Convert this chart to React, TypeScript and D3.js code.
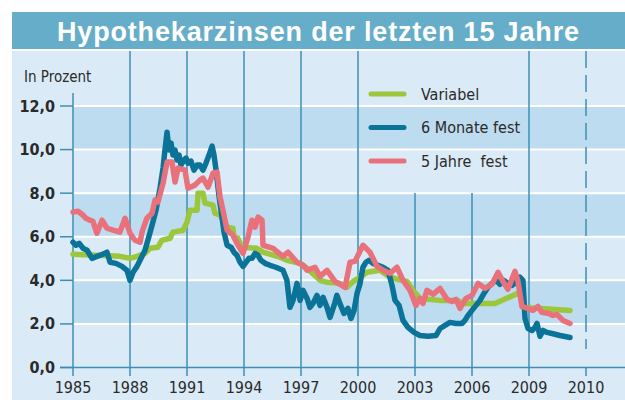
import React from "react";
import * as d3 from "d3";

const title = "Hypothekarzinsen der letzten 15 Jahre";
const yAxisTitle = "In Prozent";
const xTickLabels = ["1985", "1988", "1991", "1994", "1997", "2000", "2003", "2006", "2009", "2010"];
const yTickValues = [0, 2, 4, 6, 8, 10, 12];
const seriesNames = ["Variabel", "6 Monate fest", "5 Jahre  fest"];

const variabelYears = [1985.0, 1987.47, 1988.0, 1988.37, 1988.79, 1989.05, 1989.47, 1989.68, 1990.11, 1990.26, 1990.79, 1991.0, 1991.16, 1991.53, 1991.58, 1991.84, 1991.95, 1992.37, 1992.47, 1992.74, 1993.11, 1993.42, 1993.47, 1993.68, 1993.89, 1994.68, 1995.0, 1995.89, 1996.26, 1996.95, 1997.32, 1998.0, 1998.37, 1999.05, 1999.42, 1999.74, 2000.11, 2000.47, 2001.16, 2001.53, 2002.05, 2002.58, 2002.89, 2003.26, 2004.32, 2005.26, 2005.47, 2007.21, 2008.53, 2008.68, 2011.16];
const variabelValues = [5.2, 5.1, 5.01, 5.1, 5.24, 5.47, 5.52, 5.84, 5.93, 6.21, 6.3, 6.67, 7.22, 7.22, 8.0, 8.0, 7.54, 7.45, 7.08, 6.99, 6.44, 6.39, 5.98, 5.93, 5.52, 5.47, 5.29, 5.06, 4.92, 4.78, 4.55, 4.0, 3.91, 3.86, 3.68, 3.95, 4.14, 4.37, 4.46, 4.23, 4.05, 3.95, 3.54, 3.17, 3.08, 3.08, 2.94, 2.94, 3.45, 2.76, 2.62];

const monateYears = [1985.0, 1985.16, 1985.32, 1985.53, 1985.74, 1986.0, 1986.26, 1986.58, 1986.79, 1986.95, 1987.26, 1987.58, 1987.84, 1988.0, 1988.16, 1988.37, 1988.58, 1988.79, 1989.0, 1989.16, 1989.37, 1989.58, 1989.74, 1989.84, 1989.95, 1990.05, 1990.16, 1990.26, 1990.37, 1990.47, 1990.58, 1990.68, 1990.84, 1990.95, 1991.05, 1991.21, 1991.37, 1991.53, 1991.68, 1991.84, 1992.0, 1992.16, 1992.32, 1992.42, 1992.53, 1992.68, 1992.79, 1992.95, 1993.11, 1993.32, 1993.47, 1993.63, 1993.79, 1993.95, 1994.11, 1994.26, 1994.42, 1994.58, 1994.74, 1994.89, 1995.11, 1995.37, 1995.68, 1996.05, 1996.26, 1996.42, 1996.58, 1996.79, 1996.95, 1997.11, 1997.32, 1997.47, 1997.63, 1997.84, 1998.0, 1998.16, 1998.37, 1998.53, 1998.74, 1998.89, 1999.05, 1999.26, 1999.47, 1999.63, 1999.79, 1999.95, 2000.11, 2000.26, 2000.42, 2000.58, 2000.79, 2001.05, 2001.32, 2001.58, 2001.79, 2001.95, 2002.16, 2002.37, 2002.63, 2002.95, 2003.26, 2003.68, 2004.11, 2004.32, 2004.58, 2004.84, 2005.16, 2005.47, 2005.63, 2005.79, 2006.0, 2006.21, 2006.42, 2006.63, 2006.84, 2007.05, 2007.26, 2007.47, 2007.68, 2007.89, 2008.11, 2008.32, 2008.53, 2008.68, 2008.79, 2008.95, 2009.16, 2009.32, 2009.42, 2009.58, 2009.74, 2009.95, 2010.21, 2010.63, 2011.16];
const monateValues = [5.75, 5.61, 5.7, 5.47, 5.38, 5.01, 5.1, 5.2, 5.29, 4.83, 4.78, 4.64, 4.46, 4.0, 4.37, 4.64, 5.01, 5.38, 6.02, 6.53, 7.22, 8.23, 9.15, 9.98, 10.8, 9.98, 10.3, 9.75, 9.98, 9.52, 9.75, 9.29, 9.52, 9.61, 9.38, 9.47, 9.06, 9.29, 9.29, 9.06, 9.38, 9.75, 10.16, 9.75, 9.06, 7.91, 7.22, 6.21, 5.61, 5.52, 5.29, 5.15, 4.83, 4.64, 4.83, 5.01, 5.01, 5.24, 5.15, 4.92, 4.78, 4.69, 4.6, 4.46, 4.0, 2.76, 3.08, 3.86, 3.08, 3.54, 3.17, 2.76, 2.94, 3.31, 2.85, 3.22, 2.76, 2.3, 2.85, 3.31, 2.94, 2.48, 2.71, 2.25, 2.62, 3.4, 3.86, 4.6, 4.83, 4.92, 4.78, 4.69, 4.6, 4.46, 3.77, 3.08, 2.85, 2.16, 1.84, 1.61, 1.47, 1.43, 1.47, 1.79, 1.93, 2.07, 2.02, 2.02, 2.16, 2.39, 2.62, 2.85, 3.08, 3.4, 3.68, 3.86, 4.0, 3.82, 4.0, 3.86, 3.77, 3.91, 4.14, 4.0, 2.25, 1.79, 1.7, 1.84, 2.02, 1.43, 1.7, 1.61, 1.56, 1.47, 1.38];

const jahreYears = [1985.0, 1985.26, 1985.47, 1985.68, 1985.89, 1986.05, 1986.26, 1986.53, 1986.79, 1987.11, 1987.47, 1987.74, 1988.0, 1988.26, 1988.53, 1988.63, 1988.89, 1989.16, 1989.32, 1989.47, 1989.74, 1989.95, 1990.21, 1990.37, 1990.53, 1990.89, 1991.05, 1991.42, 1991.68, 1991.84, 1992.11, 1992.37, 1992.58, 1992.74, 1992.89, 1993.11, 1993.42, 1993.63, 1993.95, 1994.21, 1994.42, 1994.58, 1994.74, 1994.95, 1995.0, 1995.53, 1996.05, 1996.32, 1996.79, 1997.11, 1997.32, 1997.74, 1998.0, 1998.37, 1998.79, 1999.32, 1999.58, 1999.84, 2000.26, 2000.63, 2001.0, 2001.32, 2001.68, 2002.05, 2002.37, 2002.74, 2003.05, 2003.26, 2003.42, 2003.63, 2003.95, 2004.32, 2004.68, 2004.95, 2005.16, 2005.37, 2005.68, 2006.0, 2006.32, 2006.68, 2007.05, 2007.37, 2007.63, 2007.89, 2008.26, 2008.42, 2008.63, 2008.95, 2009.21, 2009.47, 2009.68, 2010.05, 2010.26, 2010.47, 2010.79, 2011.16];
const jahreValues = [7.13, 7.17, 7.03, 6.85, 6.76, 6.71, 6.16, 6.76, 6.39, 6.3, 6.21, 6.85, 6.16, 5.84, 5.75, 6.21, 6.85, 7.08, 7.68, 7.59, 8.46, 9.43, 9.43, 8.51, 9.15, 9.06, 8.23, 8.37, 8.6, 8.69, 8.28, 8.92, 8.97, 7.82, 7.22, 6.3, 6.07, 5.7, 5.24, 5.98, 6.76, 6.44, 6.9, 6.76, 5.61, 5.47, 5.1, 5.29, 4.83, 4.69, 4.46, 4.6, 4.18, 4.46, 3.95, 3.68, 4.83, 4.87, 5.61, 5.29, 4.64, 4.46, 4.32, 4.6, 4.0, 3.54, 2.85, 3.17, 2.94, 3.54, 3.36, 3.63, 3.13, 3.03, 3.13, 2.71, 3.17, 3.31, 3.86, 3.63, 3.82, 4.37, 3.95, 3.59, 4.41, 3.95, 2.8, 2.71, 2.62, 2.8, 2.53, 2.48, 2.39, 2.44, 2.16, 2.02];

const COLORS = ["#9cc63b", "#0a7397", "#e8717b"];
const GRID = "#3d8fb2";
const NARROW = "'Liberation Sans Narrow', 'Arial Narrow', 'DejaVu Sans Condensed', sans-serif";

export default function App() {
  const W = 625;
  const H = 400;
  const x = d3.scaleLinear().domain([1985, 2012]).range([73, 586]);
  const y = d3.scaleLinear().domain([0, 12]).range([367.5, 106]);
  const tickYears = xTickLabels.map((_, i) => 1985 + 3 * i);

  const line = d3
    .line<[number, number]>()
    .x((d) => x(d[0]))
    .y((d) => y(d[1]));

  const series = [
    d3.zip(variabelYears, variabelValues) as [number, number][],
    d3.zip(monateYears, monateValues) as [number, number][],
    d3.zip(jahreYears, jahreValues) as [number, number][],
  ];

  const panelTop = 51;
  const bands = [0, 2, 4, 6, 8, 10];
  const lastIdx = xTickLabels.length - 1;

  const lineTop = (i: number) => {
    if (i === 0) return 93;
    if (i === 6 || i === 7) return 193;
    return panelTop;
  };

  return (
    <svg width={W} height={H} style={{ position: "absolute", left: 0, top: 0 }}>
      <rect x={0} y={0} width={W} height={H} fill="#ffffff" />
      <rect x={12} y={12} width={W - 12} height={37} fill="#66adc9" />
      <text
        x={318}
        y={41}
        textAnchor="middle"
        fill="#ffffff"
        fontFamily="'Liberation Sans', Arial, sans-serif"
        fontWeight="bold"
        fontSize={27}
        textLength={522}
        lengthAdjust="spacing"
      >
        {title}
      </text>
      <rect x={12} y={panelTop} width={W - 12} height={H - panelTop} fill="#dbeaf7" />
      {bands.map((b) =>
        (b / 2) % 2 === 1 ? (
          <rect key={b} x={x(1985)} y={y(b + 2)} width={W - x(1985)} height={y(b) - y(b + 2)} fill="#bddcef" />
        ) : null
      )}
      {yTickValues
        .filter((v) => v > 0)
        .map((v) => (
          <line key={v} x1={x(1985)} x2={W} y1={y(v)} y2={y(v)} stroke="#ffffff" strokeWidth={2} />
        ))}
      {tickYears.map((t, i) =>
        i === lastIdx ? (
          <g key={t}>
            <line x1={x(t)} x2={x(t)} y1={panelTop} y2={349} stroke={GRID} strokeWidth={1.5} strokeDasharray="17,7" />
            <line x1={x(t)} x2={x(t)} y1={y(0)} y2={376} stroke={GRID} strokeWidth={1.5} />
          </g>
        ) : (
          <line key={t} x1={x(t)} x2={x(t)} y1={lineTop(i)} y2={376} stroke={GRID} strokeWidth={1.5} />
        )
      )}
      <line x1={60} x2={W} y1={y(0)} y2={y(0)} stroke={GRID} strokeWidth={1.5} />
      {yTickValues.map((v) => (
        <g key={v}>
          <line x1={60} x2={x(1985)} y1={y(v)} y2={y(v)} stroke={GRID} strokeWidth={1.5} />
          <text
            x={55}
            y={y(v) + 5.5}
            textAnchor="end"
            fontFamily={NARROW}
            fontWeight="bold"
            fontSize={16}
            fill="#2a2a2a"
          >
            {v.toFixed(1).replace(".", ",")}
          </text>
        </g>
      ))}
      {tickYears.map((t, i) => (
        <text key={t} x={x(t)} y={393} textAnchor="middle" fontFamily={NARROW} fontSize={16} fill="#2a2a2a">
          {xTickLabels[i]}
        </text>
      ))}
      <text x={24} y={82} fontFamily={NARROW} fontSize={15} fill="#2a2a2a">
        {yAxisTitle}
      </text>
      {series.map((s, i) => (
        <path
          key={i}
          d={line(s) || ""}
          fill="none"
          stroke={COLORS[i]}
          strokeWidth={5.5}
          strokeLinejoin="round"
          strokeLinecap="round"
        />
      ))}
      {seriesNames.map((n, i) => (
        <g key={n} transform={`translate(0, ${94 + i * 33.5})`}>
          <line x1={371} x2={404} y1={0} y2={0} stroke={COLORS[i]} strokeWidth={5} strokeLinecap="round" />
          <text x={421} y={5.5} fontFamily={NARROW} fontSize={16} fill="#2a2a2a" style={{ whiteSpace: "pre" }}>
            {n}
          </text>
        </g>
      ))}
    </svg>
  );
}
